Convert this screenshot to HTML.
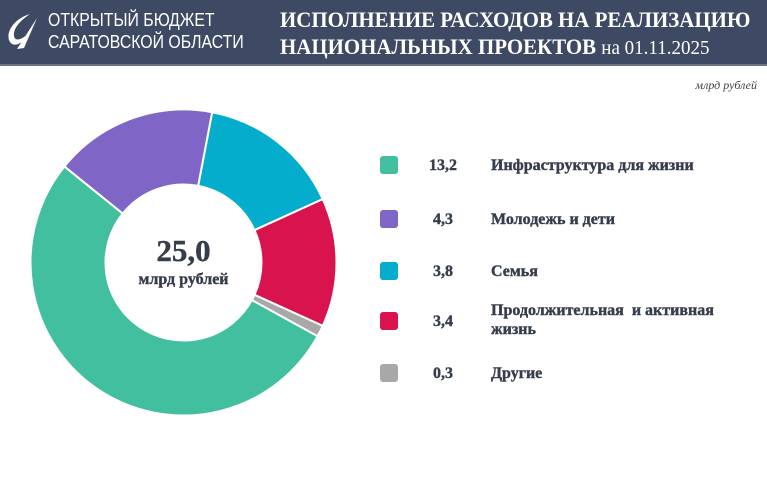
<!DOCTYPE html>
<html><head><meta charset="utf-8">
<style>
body{margin:0;width:767px;height:496px;overflow:hidden;background:#fff;font-family:"Liberation Serif","Noto Serif CJK SC",serif;}
#hdr{position:absolute;left:0;top:0;width:767px;height:64px;background:#3e4963;border-bottom:2px solid #6b7385;}
.t{position:absolute;white-space:nowrap;}
</style></head><body>
<div id="hdr">
<svg class="t" style="left:4px;top:12px" width="36" height="40">
<path d="M26 2 C12 6 2 18 5 28 C8 36 18 34 26 20 C18 28 11 30 10 24 C9 16 17 8 26 2Z" fill="#fff"/>
<path d="M33 6 L20 36 L13 37 Z" fill="#fff"/>
</svg>
<div class="t" style="left:48px;top:9px;color:#fff;font-family:'Liberation Sans',sans-serif;font-size:18px;line-height:22px;transform:scaleX(0.88);transform-origin:left">ОТКРЫТЫЙ БЮДЖЕТ<br>САРАТОВСКОЙ ОБЛАСТИ</div>
<div class="t" style="left:280px;top:6px;color:#fff;font-size:22px;font-weight:bold;line-height:27px;transform:scaleX(0.95);transform-origin:left">ИСПОЛНЕНИЕ РАСХОДОВ НА РЕАЛИЗАЦИЮ<br>НАЦИОНАЛЬНЫХ ПРОЕКТОВ <span style="font-weight:normal;font-size:20px">на 01.11.2025</span></div>
</div>
<div class="t" style="right:10px;top:78px;font-size:12px;font-style:italic;color:#444">млрд рублей</div>
<svg id="chart" class="t" style="left:0;top:0" width="767" height="496"></svg>
<script>
const categories=["Семья","Продолжительная  и активная жизнь","Другие","Инфраструктура для жизни","Молодежь и дети"];
const values=[3.8,3.4,0.3,13.2,4.3];
const colors=["#03adcb","#d8134d","#a8a8a8","#41bf9f","#7f66c6"];
const legendOrder=[3,4,0,1,2];
const legendLabels=["13,2","4,3","3,8","3,4","0,3"];
const total=25.0;
const startDeg=10.8;
const NS="http://www.w3.org/2000/svg";
const svg=document.getElementById('chart');
const cx=183.5,cy=262.5,R=153,r=78;
const sum=values.reduce((a,b)=>a+b,0);
function pt(a,rad){const t=(a-90)*Math.PI/180;return [cx+rad*Math.cos(t),cy+rad*Math.sin(t)];}
let a=startDeg;
values.forEach((v,i)=>{
  const span=v/sum*360,b=a+span,large=span>180?1:0;
  const p1=pt(a,R),p2=pt(b,R),p3=pt(b,r),p4=pt(a,r);
  const p=document.createElementNS(NS,'path');
  p.setAttribute('d',`M${p1} A${R},${R} 0 ${large} 1 ${p2} L${p3} A${r},${r} 0 ${large} 0 ${p4}Z`);
  p.setAttribute('fill',colors[i]);p.setAttribute('stroke','#fff');p.setAttribute('stroke-width','2');
  
  
  svg.appendChild(p);a=b;
});
function txt(x,y,s,size,anchor,name){const t=document.createElementNS(NS,'text');t.setAttribute('x',x);t.setAttribute('y',y);t.setAttribute('font-size',size);t.setAttribute('font-weight','bold');t.setAttribute('fill','#363d4c');t.setAttribute('stroke','#363d4c');t.setAttribute('stroke-width','0.4');t.setAttribute('text-anchor',anchor);t.textContent=s;


svg.appendChild(t);return t;}
txt(cx,261,total.toFixed(1).replace('.',','),31,'middle','total-value');
txt(cx,284,'млрд рублей',16,'middle','total-units');
const rowY=[165,219,271,321,373];
legendOrder.forEach((k,j)=>{
  const y=rowY[j];
  const rc=document.createElementNS(NS,'rect');
  rc.setAttribute('x',380);rc.setAttribute('y',y-9);rc.setAttribute('width',18);rc.setAttribute('height',18);rc.setAttribute('rx',3);rc.setAttribute('fill',colors[k]);
  
  
  svg.appendChild(rc);
  txt(443,y+5,legendLabels[j],16,'middle','legend-value');
  const lab=categories[k];
  if(lab.length>28){const t1=txt(491,y-6,'Продолжительная  и активная',16,'start','legend-label');t1.style.whiteSpace='pre';txt(491,y+13,'жизнь',16,'start','legend-label');}
  else txt(491,y+5,lab,16,'start','legend-label');
});
</script>
</body></html>
